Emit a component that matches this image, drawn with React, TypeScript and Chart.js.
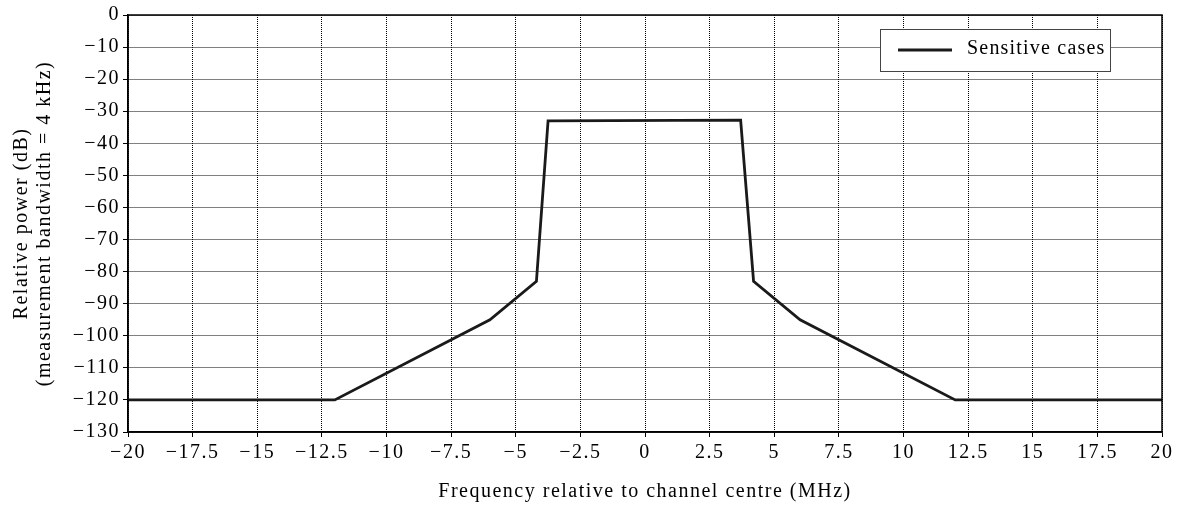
import React, { useEffect, useRef } from "react";
import { Chart, registerables } from "chart.js";

Chart.register(...registerables);

const seriesLabel = "Sensitive cases";
const freqMHz = [-20, -12, -6, -4.2, -3.75, 3.7, 4.2, 6, 12, 20];
const powerDb = [-120, -120, -95, -83, -33, -32.8, -83, -95, -120, -120];
const xTitle = "Frequency relative to channel centre (MHz)";
const yTitle = ["Relative power (dB)", "(measurement bandwidth = 4 kHz)"];
const xMin = -20, xMax = 20, xStep = 2.5;
const yMin = -130, yMax = 0, yStep = 10;

const FONT = "'Liberation Serif', 'Times New Roman', serif";

const fmt = (v: number) => {
  const s = String(Math.abs(v));
  return v < 0 ? "\u2212" + s : s;
};

const framePlugin = {
  id: "frameAndLegend",
  beforeLayout(chart: any) {
    chart.ctx.letterSpacing = "1.5px";
  },
  beforeDraw(chart: any) {
    chart.ctx.letterSpacing = "1.5px";
  },
  afterDatasetsDraw(chart: any) {
    const { ctx, chartArea } = chart;
    ctx.save();
    ctx.strokeStyle = "#000";
    ctx.lineWidth = 1.5;
    ctx.strokeRect(chartArea.left, chartArea.top, chartArea.right - chartArea.left, chartArea.bottom - chartArea.top);
    // legend box
    const bx = 880, by = 29, bw = 230, bh = 42;
    ctx.fillStyle = "#fff";
    ctx.fillRect(bx, by, bw, bh);
    ctx.strokeStyle = "#444";
    ctx.lineWidth = 1;
    ctx.strokeRect(bx + 0.5, by + 0.5, bw, bh);
    ctx.strokeStyle = "#1a1a1a";
    ctx.lineWidth = 2.8;
    ctx.beginPath();
    ctx.moveTo(898, by + 21);
    ctx.lineTo(952, by + 21);
    ctx.stroke();
    ctx.fillStyle = "#000";
    ctx.font = `20px ${FONT}`;
    ctx.letterSpacing = "1.2px";
    ctx.textBaseline = "middle";
    ctx.textAlign = "left";
    ctx.fillText(chart.data.datasets[0].label, 967, by + 20);
    ctx.restore();
  },
};

export default function App() {
  const ref = useRef<HTMLCanvasElement | null>(null);
  useEffect(() => {
    if (!ref.current) return;
    const chart = new Chart(ref.current, {
      type: "line",
      data: {
        datasets: [
          {
            label: seriesLabel,
            data: freqMHz.map((x, i) => ({ x, y: powerDb[i] })),
            borderColor: "#1a1a1a",
            borderWidth: 2.8,
            pointRadius: 0,
            tension: 0,
            fill: false,
          },
        ],
      },
      options: {
        responsive: false,
        animation: false,
        layout: { padding: { top: 11, right: 22, left: 0, bottom: 0 } },
        plugins: {
          legend: { display: false },
          tooltip: { enabled: false },
        },
        scales: {
          x: {
            type: "linear",
            min: xMin,
            max: xMax,
            afterFit: (s: any) => {
              s.height = 76;
            },
            ticks: {
              stepSize: xStep,
              autoSkip: false,
              maxRotation: 0,
              color: "#000",
              padding: 4,
              font: { family: FONT, size: 20 },
              callback: (v: any) => fmt(Number(v)),
            },
            grid: { color: "#000", lineWidth: 1, tickLength: 5, tickColor: "#000", tickBorderDash: [] },
            border: { display: true, color: "#000", width: 1.5, dash: [1, 1] },
            title: {
              display: true,
              text: xTitle,
              color: "#000",
              font: { family: FONT, size: 20, lineHeight: 1.2 },
              padding: { top: 8, bottom: 4 },
            },
          },
          y: {
            type: "linear",
            min: yMin,
            max: yMax,
            afterFit: (s: any) => {
              s.width = 128;
            },
            ticks: {
              stepSize: yStep,
              autoSkip: false,
              color: "#000",
              padding: 3,
              font: { family: FONT, size: 20 },
              callback: (v: any) => fmt(Number(v)),
            },
            grid: { color: "#000", lineWidth: 1, tickLength: 5, tickColor: "#000", tickBorderDash: [] },
            border: { display: true, color: "#000", width: 1.5, dash: [1, 1] },
            title: {
              display: true,
              text: yTitle,
              color: "#000",
              font: { family: FONT, size: 20, lineHeight: 1.15 },
              padding: { top: 10, bottom: 0 },
            },
          },
        },
      },
      plugins: [framePlugin],
    });
    return () => chart.destroy();
  }, []);
  return (
    <div style={{ position: "absolute", left: 0, top: 0, width: 1184, height: 508, background: "#fff" }}>
      <canvas ref={ref} width={1184} height={508} />
    </div>
  );
}
